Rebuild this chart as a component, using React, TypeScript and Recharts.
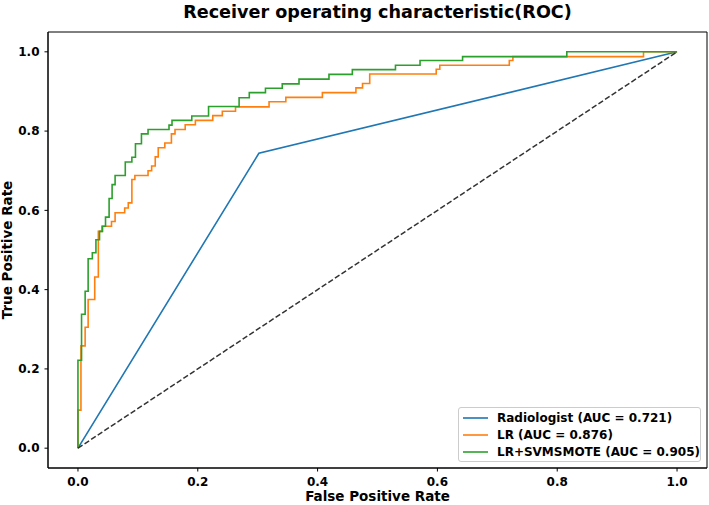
import React from 'react';
import { LineChart, Line, XAxis, YAxis, Legend, ReferenceArea } from 'recharts';

const tickValues = [0, 0.2, 0.4, 0.6, 0.8, 1.0];
const tickLabels = ['0.0', '0.2', '0.4', '0.6', '0.8', '1.0'];

const titleText = 'Receiver operating characteristic(ROC)';
const xLabelText = 'False Positive Rate';
const yLabelText = 'True Positive Rate';

const seriesNames = ['Radiologist (AUC = 0.721)', 'LR (AUC = 0.876)', 'LR+SVMSMOTE (AUC = 0.905)'];
const seriesColors = ['#1f77b4', '#ff7f0e', '#2ca02c'];

const chanceFpr = [0, 1];
const chanceTpr = [0, 1];

const radFpr = [0, 0.302, 1];
const radTpr = [0, 0.744, 1];

const lrFpr = [0, 0, 0.005, 0.005, 0.012, 0.012, 0.017, 0.017, 0.028, 0.028, 0.034, 0.034, 0.040, 0.040, 0.056, 0.056, 0.062, 0.062, 0.078, 0.078, 0.084, 0.084, 0.090, 0.090, 0.095, 0.095, 0.117, 0.117, 0.123, 0.123, 0.129, 0.129, 0.134, 0.134, 0.145, 0.145, 0.156, 0.156, 0.162, 0.162, 0.179, 0.179, 0.196, 0.196, 0.225, 0.225, 0.241, 0.241, 0.263, 0.263, 0.319, 0.319, 0.347, 0.347, 0.408, 0.408, 0.464, 0.464, 0.475, 0.475, 0.487, 0.487, 0.598, 0.598, 0.604, 0.604, 0.720, 0.720, 0.726, 0.726, 0.944, 0.944, 1];
const lrTpr = [0, 0.096, 0.096, 0.258, 0.258, 0.305, 0.305, 0.375, 0.375, 0.432, 0.432, 0.547, 0.547, 0.560, 0.560, 0.572, 0.572, 0.594, 0.594, 0.606, 0.606, 0.619, 0.619, 0.678, 0.678, 0.688, 0.688, 0.700, 0.700, 0.712, 0.712, 0.735, 0.735, 0.758, 0.758, 0.770, 0.770, 0.793, 0.793, 0.804, 0.804, 0.816, 0.816, 0.827, 0.827, 0.839, 0.839, 0.850, 0.850, 0.861, 0.861, 0.874, 0.874, 0.885, 0.885, 0.897, 0.897, 0.909, 0.909, 0.920, 0.920, 0.944, 0.944, 0.956, 0.956, 0.966, 0.966, 0.978, 0.978, 0.988, 0.988, 1, 1];

const svmFpr = [0, 0, 0.006, 0.006, 0.012, 0.012, 0.017, 0.017, 0.024, 0.024, 0.030, 0.030, 0.036, 0.036, 0.041, 0.041, 0.046, 0.046, 0.052, 0.052, 0.057, 0.057, 0.062, 0.062, 0.079, 0.079, 0.090, 0.090, 0.096, 0.096, 0.106, 0.106, 0.117, 0.117, 0.152, 0.152, 0.157, 0.157, 0.190, 0.190, 0.218, 0.218, 0.269, 0.269, 0.286, 0.286, 0.313, 0.313, 0.341, 0.341, 0.369, 0.369, 0.419, 0.419, 0.458, 0.458, 0.530, 0.530, 0.571, 0.571, 0.642, 0.642, 0.816, 0.816, 1];
const svmTpr = [0, 0.222, 0.222, 0.338, 0.338, 0.396, 0.396, 0.478, 0.478, 0.493, 0.493, 0.526, 0.526, 0.547, 0.547, 0.560, 0.560, 0.583, 0.583, 0.630, 0.630, 0.665, 0.665, 0.688, 0.688, 0.722, 0.722, 0.734, 0.734, 0.768, 0.768, 0.793, 0.793, 0.804, 0.804, 0.815, 0.815, 0.827, 0.827, 0.838, 0.838, 0.862, 0.862, 0.884, 0.884, 0.897, 0.897, 0.908, 0.908, 0.919, 0.919, 0.931, 0.931, 0.943, 0.943, 0.955, 0.955, 0.966, 0.966, 0.978, 0.978, 0.988, 0.988, 1, 1];

const toRows = (f: number[], t: number[]) => f.map((x, i) => ({ fpr: x, tpr: t[i] }));

const chanceData = toRows(chanceFpr, chanceTpr);
const radData = toRows(radFpr, radTpr);
const lrData = toRows(lrFpr, lrTpr);
const svmData = toRows(svmFpr, svmTpr);

const FONT = '"DejaVu Sans", sans-serif';
const tickStyle = { fontFamily: FONT, fontWeight: 'bold', fontSize: 12, fill: '#000' };
const fmt = (v: number) => tickLabels[tickValues.findIndex((t) => Math.abs(t - v) < 1e-9)] ?? v.toFixed(1);
const domain: [number, number] = [-0.05, 1.05];

const renderLegend = () => (
  <div
    style={{
      position: 'relative',
      width: 243,
      height: 55,
      boxSizing: 'border-box',
      border: '1px solid #cccccc',
      borderRadius: 3,
      background: 'rgba(255,255,255,0.8)',
      fontFamily: FONT,
      fontWeight: 'bold',
      fontSize: 12,
      color: '#000',
    }}
  >
    {seriesNames.map((n, i) => (
      <div
        key={n}
        style={{ position: 'absolute', left: 4, top: 9.7 + i * 17.3 - 7, height: 14, lineHeight: '14px', whiteSpace: 'nowrap', display: 'flex', alignItems: 'center' }}
      >
        <svg width={25} height={4} style={{ display: 'block' }}>
          <line x1={0} y1={2} x2={25} y2={2} stroke={seriesColors[i]} strokeWidth={1.6} />
        </svg>
        <span style={{ marginLeft: 9 }}>{n}</span>
      </div>
    ))}
  </div>
);

export default function App() {
  return (
    <div style={{ position: 'absolute', left: 0, top: 0, width: 709, height: 505, background: '#fff' }}>
      <div
        style={{
          position: 'absolute',
          left: 48,
          top: 2,
          width: 659,
          textAlign: 'center',
          fontFamily: FONT,
          fontWeight: 'bold',
          fontSize: 17.6,
          lineHeight: '20px',
          color: '#000',
          whiteSpace: 'nowrap',
        }}
      >
        {titleText}
      </div>
      <LineChart width={709} height={505} margin={{ top: 32, right: 2, left: 0, bottom: 0 }}>
        <XAxis
          dataKey="fpr"
          type="number"
          domain={domain}
          ticks={tickValues}
          tickFormatter={fmt}
          allowDataOverflow
          height={37}
          tickSize={3.5}
          tickMargin={6}
          tick={tickStyle}
          tickLine={{ stroke: '#000' }}
          axisLine={{ stroke: '#000' }}
          label={{ value: xLabelText, position: 'insideBottom', offset: 4.2, fontFamily: FONT, fontWeight: 'bold', fontSize: 13.5, fill: '#000' }}
        />
        <YAxis
          dataKey="tpr"
          type="number"
          domain={domain}
          ticks={tickValues}
          tickFormatter={fmt}
          allowDataOverflow
          width={48}
          tickSize={3.5}
          tickMargin={5}
          tick={tickStyle}
          tickLine={{ stroke: '#000' }}
          axisLine={{ stroke: '#000' }}
          label={{ value: yLabelText, angle: -90, position: 'insideLeft', offset: 7.5, fontFamily: FONT, fontWeight: 'bold', fontSize: 13.5, fill: '#000', style: { textAnchor: 'middle' } }}
        />
        <ReferenceArea x1={-0.05} x2={1.05} y1={-0.05} y2={1.05} fill="none" fillOpacity={0} stroke="#000" strokeWidth={1} ifOverflow="visible" />
        <Legend
          layout="vertical"
          align="center"
          verticalAlign="middle"
          content={renderLegend}
          wrapperStyle={{ left: 458, top: 407, width: 243, height: 55 }}
        />
        <Line data={radData} dataKey="tpr" name={seriesNames[0]} stroke={seriesColors[0]} strokeWidth={1.6} dot={false} activeDot={false} isAnimationActive={false} type="linear" />
        <Line data={lrData} dataKey="tpr" name={seriesNames[1]} stroke={seriesColors[1]} strokeWidth={1.6} dot={false} activeDot={false} isAnimationActive={false} type="linear" />
        <Line data={svmData} dataKey="tpr" name={seriesNames[2]} stroke={seriesColors[2]} strokeWidth={1.6} dot={false} activeDot={false} isAnimationActive={false} type="linear" />
        <Line data={chanceData} dataKey="tpr" name="chance" legendType="none" stroke="#333" strokeWidth={1.5} strokeDasharray="5.5 2.4" dot={false} activeDot={false} isAnimationActive={false} type="linear" />
      </LineChart>
    </div>
  );
}
